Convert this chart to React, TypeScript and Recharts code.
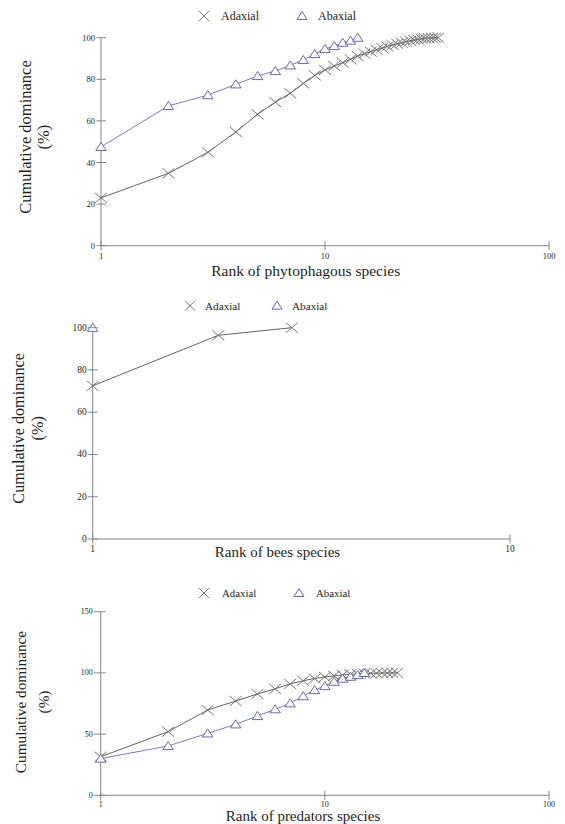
import React from 'react';
import { LineChart, Line, XAxis, YAxis } from 'recharts';

// ---------------- data ----------------
const phytoRanks = [1, 2, 3, 4, 5, 6, 7, 8, 9, 10, 11, 12, 13, 14, 15, 16, 17, 18, 19, 20, 21, 22, 23, 24, 25, 26, 27, 28, 29, 30, 31, 32];
const phytoAdaxial = [23, 34.8, 44.9, 54.7, 63.2, 69, 73.3, 78, 81.9, 84.5, 86.4, 88, 89.6, 91.2, 92.3, 93.3, 94.2, 95, 95.8, 96.5, 97.1, 97.6, 98.1, 98.5, 98.9, 99.2, 99.5, 99.7, 99.8, 99.9, 100, 100];
const phytoAbaxial = [47.5, 67.2, 72.4, 77.6, 81.6, 84, 86.7, 89.3, 92.2, 94.6, 96, 97.6, 98.6, 100];

const beesRanks = [1, 2, 3];
const beesAdaxial = [72.5, 96.4, 100];
const beesAbaxial = [100];

const predRanks = [1, 2, 3, 4, 5, 6, 7, 8, 9, 10, 11, 12, 13, 14, 15, 16, 17, 18, 19, 20, 21];
const predAdaxial = [31.5, 52, 69.7, 77, 82.8, 87, 91, 93.6, 95.4, 96.7, 97.6, 98.3, 98.8, 99.2, 99.5, 99.7, 99.8, 99.9, 100, 100, 100];
const predAbaxial = [30, 40.3, 50.6, 58, 64.8, 70.3, 75.2, 81, 86, 89.3, 92.8, 95.3, 96.9, 98.3, 100];

const xTicksWide = [1, 10, 100];
const xTicksNarrow = [1, 10];
const yTicks100 = [0, 20, 40, 60, 80, 100];
const yTicks150 = [0, 50, 100, 150];

const seriesNames = ['Adaxial', 'Abaxial'];
const yTitleLines = ['Cumulative dominance', '(%)'];

function buildTable(ranks: number[], ad: number[], ab: number[]) {
  return ranks.map((r, i) => ({
    rank: r,
    adaxial: i < ad.length ? ad[i] : null,
    abaxial: i < ab.length ? ab[i] : null,
  }));
}

// ---------------- styles ----------------
const FONT = "'Liberation Serif', 'Times New Roman', Times, 'DejaVu Serif', serif";
const FS = { fontFamily: FONT };
const AXIS = '#858585';
const TXT = '#1e1e1e';
const AD_LINE = '#626262';
const AD_MARK = '#666666';
const AB_LINE = '#7d7db4';
const AB_MARK = '#5a5aa0';

const makeCross = (color: string) => (p: any) => {
  const { cx, cy, index } = p;
  if (cx == null || cy == null || Number.isNaN(cx) || Number.isNaN(cy)) return <g key={`c${index}`} />;
  return (
    <g key={`c${index}`}>
      <line x1={cx - 6} y1={cy - 5} x2={cx + 6} y2={cy + 5} stroke={color} strokeWidth={0.9} />
      <line x1={cx - 6} y1={cy + 5} x2={cx + 6} y2={cy - 5} stroke={color} strokeWidth={0.9} />
    </g>
  );
};

const makeTri = (color: string) => (p: any) => {
  const { cx, cy, index } = p;
  if (cx == null || cy == null || Number.isNaN(cx) || Number.isNaN(cy)) return <g key={`t${index}`} />;
  return (
    <polygon
      key={`t${index}`}
      points={`${cx},${cy - 4.5} ${cx - 5.2},${cy + 3.6} ${cx + 5.2},${cy + 3.6}`}
      fill="#ffffff"
      stroke={color}
      strokeWidth={0.9}
    />
  );
};

type Cfg = {
  top: number;
  height: number;
  plotTop: number;
  plotBottom: number;
  plotLeft: number;
  plotRight: number;
  xDomain: [number, number];
  xTicks: number[];
  yDomain: [number, number];
  yTicks: number[];
  tickFs: number;
  xTickGap: number;
  yTickLeft: number;
  yLabelGap: number;
  xTitle: string;
  xTitleX: number;
  xTitleDy: number;
  xTitleFs: number;
  yTitleX: [number, number];
  yTitleDy: number;
  yTitleFs: number;
  legY: number;
  crossX: number;
  adX: number;
  triX: number;
  abX: number;
  legFs: number;
};

const panels: { cfg: Cfg; data: any[] }[] = [
  {
    data: buildTable(phytoRanks, phytoAdaxial, phytoAbaxial),
    cfg: {
      top: 0, height: 280, plotTop: 37.7, plotBottom: 245.7, plotLeft: 101, plotRight: 549,
      xDomain: [1, 100], xTicks: xTicksWide, yDomain: [0, 100], yTicks: yTicks100,
      tickFs: 8.5, xTickGap: 10, yTickLeft: 4.5, yLabelGap: 6,
      xTitle: 'Rank of phytophagous species', xTitleX: 305.7, xTitleDy: 24.3, xTitleFs: 15.5,
      yTitleX: [25, 43], yTitleDy: -4.7, yTitleFs: 16.5,
      legY: 16, crossX: 204, adX: 221, triX: 302, abX: 318, legFs: 12,
    },
  },
  {
    data: buildTable(beesRanks, beesAdaxial, beesAbaxial),
    cfg: {
      top: 280, height: 282, plotTop: 327.7, plotBottom: 539, plotLeft: 92.7, plotRight: 510,
      xDomain: [1, 10], xTicks: xTicksNarrow, yDomain: [0, 100], yTicks: yTicks100,
      tickFs: 9.5, xTickGap: 10.3, yTickLeft: 5, yLabelGap: 6,
      xTitle: 'Rank of bees species', xTitleX: 277.5, xTitleDy: 12.7, xTitleFs: 15,
      yTitleX: [19, 38], yTitleDy: -5, yTitleFs: 16.2,
      legY: 305.7, crossX: 190, adX: 205, triX: 277, abX: 292, legFs: 11.2,
    },
  },
  {
    data: buildTable(predRanks, predAdaxial, predAbaxial),
    cfg: {
      top: 562, height: 262, plotTop: 611.7, plotBottom: 795.3, plotLeft: 100.7, plotRight: 549,
      xDomain: [1, 100], xTicks: xTicksWide, yDomain: [0, 150], yTicks: yTicks150,
      tickFs: 8, xTickGap: 8.7, yTickLeft: 7, yLabelGap: 8,
      xTitle: 'Rank of predators species', xTitleX: 303, xTitleDy: 20.7, xTitleFs: 15,
      yTitleX: [20, 43], yTitleDy: -1.5, yTitleFs: 15.3,
      legY: 593, crossX: 204, adX: 222, triX: 299, abX: 316, legFs: 10.8,
    },
  },
];

function Panel({ cfg, data }: { cfg: Cfg; data: any[] }) {
  const xAxisHeight = cfg.top + cfg.height - cfg.plotBottom;
  const XTick = (p: any) => {
    const { x, y, payload } = p;
    return (
      <g>
        <line x1={x} x2={x} y1={y - 4.5} y2={y + 4.5} stroke={AXIS} strokeWidth={1} />
        <text x={x} y={y + cfg.xTickGap} textAnchor="middle" dominantBaseline="central" fontSize={cfg.tickFs} style={FS} fill={TXT}>
          {payload.value}
        </text>
      </g>
    );
  };
  const YTick = (p: any) => {
    const { x, y, payload } = p;
    return (
      <g>
        <line x1={x - cfg.yTickLeft} x2={x + 5} y1={y} y2={y} stroke={AXIS} strokeWidth={1} />
        <text x={x - cfg.yLabelGap} y={y} textAnchor="end" dominantBaseline="central" fontSize={cfg.tickFs} style={FS} fill={TXT}>
          {payload.value}
        </text>
      </g>
    );
  };
  const XTitle = (p: any) => {
    const vb = p.viewBox || {};
    return (
      <text x={cfg.xTitleX} y={vb.y + cfg.xTitleDy} textAnchor="middle" dominantBaseline="central" fontSize={cfg.xTitleFs} style={FS} fill={TXT}>
        {cfg.xTitle}
      </text>
    );
  };
  const YTitle = (p: any) => {
    const vb = p.viewBox || {};
    const cy = vb.y + vb.height / 2 + cfg.yTitleDy;
    return (
      <g>
        {yTitleLines.map((t, i) => (
          <text
            key={t}
            x={cfg.yTitleX[i]}
            y={cy}
            transform={`rotate(-90, ${cfg.yTitleX[i]}, ${cy})`}
            textAnchor="middle"
            dominantBaseline="central"
            fontSize={cfg.yTitleFs}
            style={FS}
            fill={TXT}
          >
            {t}
          </text>
        ))}
      </g>
    );
  };
  const ly = cfg.legY - cfg.top;
  return (
    <div style={{ position: 'absolute', left: 0, top: cfg.top, width: 565, height: cfg.height }}>
      <LineChart
        width={565}
        height={cfg.height}
        data={data}
        margin={{ top: cfg.plotTop - cfg.top, right: 565 - cfg.plotRight, bottom: 0, left: 0 }}
      >
        <XAxis
          dataKey="rank"
          type="number"
          scale="log"
          domain={cfg.xDomain}
          ticks={cfg.xTicks}
          interval={0}
          height={xAxisHeight}
          tickSize={0}
          tickMargin={0}
          tickLine={false}
          axisLine={{ stroke: AXIS, strokeWidth: 1 }}
          tick={XTick}
          label={XTitle}
        />
        <YAxis
          type="number"
          domain={cfg.yDomain}
          ticks={cfg.yTicks}
          interval={0}
          width={cfg.plotLeft}
          tickSize={0}
          tickMargin={0}
          tickLine={false}
          axisLine={{ stroke: AXIS, strokeWidth: 1 }}
          tick={YTick}
          label={YTitle}
        />
        <Line
          dataKey="adaxial"
          stroke={AD_LINE}
          strokeWidth={1}
          dot={makeCross(AD_MARK)}
          activeDot={false}
          isAnimationActive={false}
          connectNulls={false}
        />
        <Line
          dataKey="abaxial"
          stroke={AB_LINE}
          strokeWidth={1}
          dot={makeTri(AB_MARK)}
          activeDot={false}
          isAnimationActive={false}
          connectNulls={false}
        />
      </LineChart>
      <svg width={565} height={cfg.height} style={{ position: 'absolute', left: 0, top: 0, pointerEvents: 'none' }}>
        <line x1={cfg.crossX - 5} y1={ly - 5} x2={cfg.crossX + 5} y2={ly + 5} stroke={AD_MARK} strokeWidth={0.9} />
        <line x1={cfg.crossX - 5} y1={ly + 5} x2={cfg.crossX + 5} y2={ly - 5} stroke={AD_MARK} strokeWidth={0.9} />
        <text x={cfg.adX} y={ly} dominantBaseline="central" fontSize={cfg.legFs} style={FS} fill={TXT}>
          {seriesNames[0]}
        </text>
        <polygon
          points={`${cfg.triX},${ly - 4.5} ${cfg.triX - 5},${ly + 3.5} ${cfg.triX + 5},${ly + 3.5}`}
          fill="#ffffff"
          stroke={AB_MARK}
          strokeWidth={0.9}
        />
        <text x={cfg.abX} y={ly} dominantBaseline="central" fontSize={cfg.legFs} style={FS} fill={TXT}>
          {seriesNames[1]}
        </text>
      </svg>
    </div>
  );
}

export default function App() {
  return (
    <div style={{ position: 'absolute', left: 0, top: 0, width: 565, height: 824, background: '#ffffff', overflow: 'hidden', fontFamily: FONT }}>
      {panels.map((p, i) => (
        <Panel key={i} cfg={p.cfg} data={p.data} />
      ))}
    </div>
  );
}
